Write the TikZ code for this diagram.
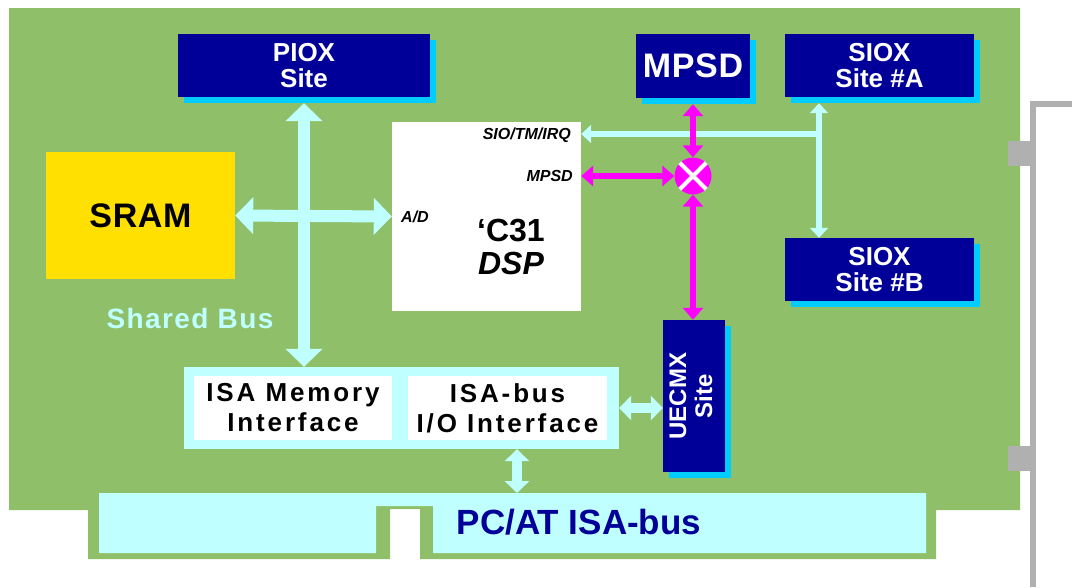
\documentclass[tikz,border=0pt]{standalone}
\usepackage{fontspec}
\setmainfont{Liberation Sans}
\usetikzlibrary{arrows.meta, shadows}

\definecolor{boardgreen}{HTML}{8FBF68}
\definecolor{sitenavy}{HTML}{000099}
\definecolor{siteshade}{HTML}{00CCFF}
\definecolor{buscyan}{HTML}{C0FFFF}
\definecolor{sramyellow}{HTML}{FFE000}
\definecolor{mpsdpink}{HTML}{FF00FF}
\definecolor{slotgray}{HTML}{B0B0B0}

\tikzset{
  bustip/.tip={Triangle[width=36pt,length=18pt]},
  isatip/.tip={Triangle[width=24pt,length=12pt]},
  siotip/.tip={Triangle[width=18pt,length=10pt]},
  mpsdtip/.tip={Triangle[width=20pt,length=12pt]},
  site/.style={fill=sitenavy, text=white, inner sep=0pt, align=center,
    font=\bfseries\fontsize{26}{26}\selectfont,
    drop shadow={shadow xshift=6pt, shadow yshift=-6pt, fill=siteshade, opacity=1}},
  whitebox/.style={fill=white, inner sep=0pt, align=center,
    font=\bfseries\fontsize{26}{30}\selectfont\addfontfeatures{LetterSpace=11}},
  pinlabel/.style={inner sep=0pt, font=\bfseries\itshape\fontsize{16}{16}\selectfont},
  busline/.style={buscyan, line width=12pt, bustip-bustip},
  isaline/.style={buscyan, line width=10pt, isatip-isatip},
  sioline/.style={buscyan, line width=6pt},
  mpsdline/.style={mpsdpink, line width=6pt, mpsdtip-mpsdtip}
}

\begin{document}
\begin{tikzpicture}[x=1pt,y=-1pt]
\useasboundingbox (0,0) rectangle (1072,587);

% board and slot bracket
\fill[boardgreen] (9,8) -- (1020,8) -- (1020,510) -- (936,510) -- (936,559) -- (420,559) -- (420,509) -- (390,509) -- (390,559) -- (88,559) -- (88,510) -- (9,510) -- cycle;
\fill[slotgray] (1030,101) rectangle (1072,107);
\fill[slotgray] (1030,101) rectangle (1036,587);
\fill[slotgray] (1008,141) rectangle (1030,166);
\fill[slotgray] (1008,446) rectangle (1030,471);

% edge connector
\fill[buscyan] (99,493) -- (926,493) -- (926,553) -- (433,553) -- (433,506) -- (376,506) -- (376,553) -- (99,553) -- cycle;
\node[inner sep=0pt, text=sitenavy, font=\bfseries\fontsize{35}{35}\selectfont] (pcbus) at (579,522) {PC/AT ISA-bus};
\coordinate (bustap) at (517,493);

% sites
\node[site, minimum width=252pt, minimum height=63pt] (piox) at (304,65.5) {PIOX\\Site};
\node[site, minimum width=114pt, minimum height=64pt, font=\bfseries\fontsize{34}{34}\selectfont\addfontfeatures{LetterSpace=2}] (mpsd) at (693,66) {MPSD};
\node[site, minimum width=189pt, minimum height=63pt] (sioxa) at (879.5,65.5) {SIOX\\Site \#A};
\node[site, minimum width=189pt, minimum height=63pt] (sioxb) at (879.5,269.5) {SIOX\\Site \#B};
\node[site, minimum width=62pt, minimum height=152pt, font=\bfseries\fontsize{24}{26}\selectfont] (uecmx) at (694,396) {\rotatebox{90}{\begin{tabular}{@{}c@{}}UECMX\\Site\end{tabular}}};

% memory and dsp
\node[fill=sramyellow, inner sep=0pt, minimum width=189pt, minimum height=127pt, font=\bfseries\fontsize{34}{34}\selectfont\addfontfeatures{LetterSpace=2}] (sram) at (140.5,215.5) {SRAM};
\node[fill=white, inner sep=0pt, minimum width=189pt, minimum height=189pt] (dsp) at (486.5,216.5) {};
\node[pinlabel, anchor=east] (siopin) at (571,135) {SIO/TM/IRQ};
\node[pinlabel, anchor=east] (mpsdpin) at (573,176) {MPSD};
\node[pinlabel, anchor=west] (adpin) at (401,217) {A/D};
\node[inner sep=0pt, align=center, font=\bfseries\fontsize{32}{33}\selectfont] (c31) at (511,247) {‘C31\\\textit{DSP}};

% isa interfaces
\node[fill=buscyan, inner sep=0pt, minimum width=435pt, minimum height=82pt] (isa) at (401.5,408) {};
\node[whitebox, minimum width=198pt, minimum height=64pt] (isamem) at (293,408) {ISA Memory\\Interface};
\node[whitebox, minimum width=199pt, minimum height=64pt] (isaio) at (507.5,408) {ISA-bus\\I/O Interface};

\node[inner sep=0pt, text=buscyan, font=\bfseries\fontsize{28}{28}\selectfont\addfontfeatures{LetterSpace=5}] (sharedlbl) at (190,318) {Shared Bus};

% shared bus
\draw[busline, shorten <=6pt] (piox.south) -- (piox.south |- isa.north);
\draw[busline] (sram.east) -- (dsp.west);

% serial lines
\coordinate (siotap) at (819,134);
\draw[sioline, siotip-siotip, shorten <=6pt] (sioxa.south -| siotap) -- (sioxb.north -| siotap);
\draw[sioline, -siotip] (siotap) -- (siotap -| dsp.east);

% mpsd crosspoint
\node[circle, fill=mpsdpink, minimum size=37pt, inner sep=0pt] (mix) at (693,176) {};
\draw[white, line width=4pt] (mix.45) -- (mix.225) (mix.135) -- (mix.315);
\draw[mpsdline] (dsp.east |- mix) -- (mix.west);
\draw[mpsdline, shorten <=6pt] (mpsd.south) -- (mix.north);
\draw[mpsdline] (mix.south) -- (mix.south |- uecmx.north);

% isa links
\draw[isaline] (isa.east) -- (isa.east -| uecmx.west);
\draw[isaline] (bustap |- isa.south) -- (bustap);
\end{tikzpicture}
\end{document}
